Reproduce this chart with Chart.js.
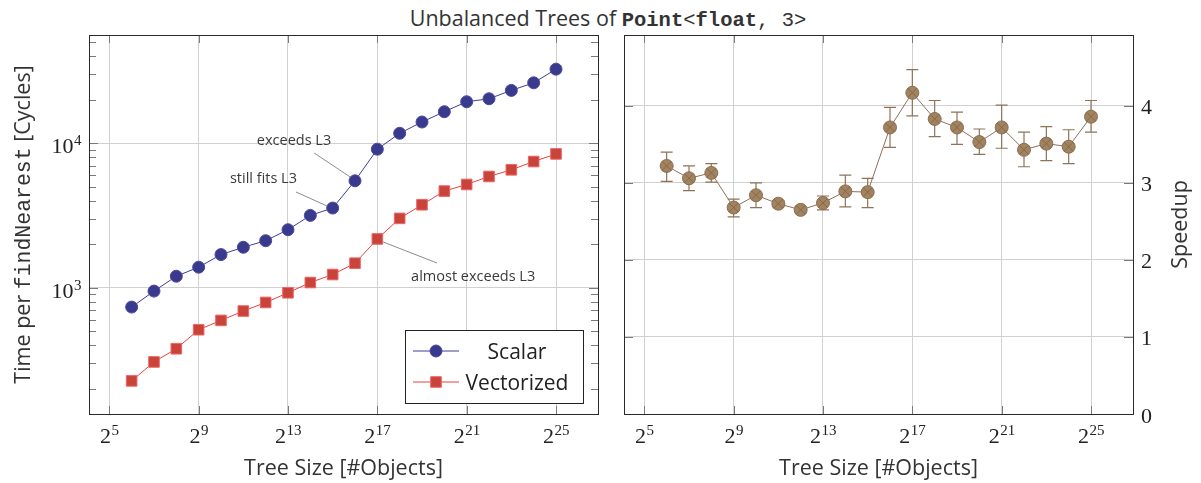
<!DOCTYPE html>
<html>
<head>
<meta charset="utf-8">
<title>Unbalanced Trees of Point&lt;float, 3&gt;</title>
<script src="https://cdn.jsdelivr.net/npm/chart.js@4.4.1/dist/chart.umd.min.js"></script>
<style>
  html, body { margin: 0; padding: 0; background: #fff; overflow: hidden; }
  #wrap { position: relative; width: 1201px; height: 483px; }
  #title {
    position: absolute; top: 4px; left: 608px; transform: translateX(-50%);
    white-space: nowrap; font-family: "Open Sans", sans-serif; font-size: 21.5px;
    line-height: 28px; color: #333;
  }
  #title code { font-family: "Liberation Mono", "DejaVu Sans Mono", monospace; font-size: 20.5px; }
  canvas { position: absolute; top: 0; }
  #timeChart { left: 0; }
  #speedupChart { left: 612px; }
</style>
</head>
<body>
<div id="wrap">
  <div id="title">Unbalanced Trees of <code><b>Point</b>&lt;<b>float</b>, 3&gt;</code></div>
  <canvas id="timeChart" width="612" height="483"></canvas>
  <canvas id="speedupChart" width="589" height="483"></canvas>
</div>
<script>
// tree sizes as exponents of two (2^6 .. 2^25 objects)
const sizeExp = [6, 7, 8, 9, 10, 11, 12, 13, 14, 15, 16, 17, 18, 19, 20, 21, 22, 23, 24, 25];

// cycles per findNearest call
const scalarCycles = [736, 949, 1203, 1389, 1698, 1907, 2119, 2523, 3170, 3563,
                      5500, 9100, 11720, 14030, 16530, 19370, 20320, 23210, 26200, 32570];
const vectorCycles = [227, 307, 379, 513, 595, 691, 792, 924, 1088, 1236,
                      1480, 2178, 3022, 3756, 4669, 5188, 5891, 6551, 7476, 8440];

// speedup with error range
const speedup     = [3.22, 3.06, 3.13, 2.68, 2.84, 2.73, 2.65, 2.74, 2.89, 2.88,
                     3.72, 4.17, 3.83, 3.72, 3.53, 3.72, 3.43, 3.51, 3.47, 3.86];
const speedupLow  = [3.02, 2.90, 3.01, 2.56, 2.68, 2.69, 2.61, 2.65, 2.69, 2.68,
                     3.46, 3.87, 3.60, 3.50, 3.37, 3.45, 3.21, 3.29, 3.25, 3.66];
const speedupHigh = [3.40, 3.22, 3.25, 2.79, 3.00, 2.77, 2.69, 2.83, 3.10, 3.06,
                     3.98, 4.47, 4.07, 3.92, 3.70, 4.01, 3.66, 3.73, 3.69, 4.07];

// tick positions
const xTickExp = [5, 9, 13, 17, 21, 25];
const timeMajorTicks = [1000, 10000];
const timeMinorTicks = [200, 300, 400, 500, 600, 700, 800, 900,
                        2000, 3000, 4000, 5000, 6000, 7000, 8000, 9000,
                        20000, 30000, 40000, 50000];
const speedupTicks = [0, 1, 2, 3, 4];

// cache notes: label position and pointer line, in data units (exponent, cycles)
const cacheNotes = [
  { text: 'exceeds L3',        tx: 13.27, ty: 10420, x1: 14.17, y1: 8570, x2: 15.78, y2: 5850 },
  { text: 'still fits L3',     tx: 11.90, ty: 5660,  x1: 13.36, y1: 4600, x2: 14.75, y2: 3680 },
  { text: 'almost exceeds L3', tx: 21.29, ty: 1188,  x1: 17.26, y1: 2075, x2: 19.67, y2: 1485 }
];

const SERIF = '"Liberation Serif", "DejaVu Serif", serif';
const SANS = '"Open Sans", "Noto Sans", sans-serif';
const MONO = '"Liberation Mono", "DejaVu Sans Mono", monospace';
const gridColor = '#d0d0d0';
const textColor = '#333333';

// draws base^exp with a raised exponent
function powLabel(ctx, base, exp, x, y, align) {
  ctx.font = '22px ' + SERIF;
  const wb = ctx.measureText(base).width;
  ctx.font = '15px ' + SERIF;
  const we = ctx.measureText(exp).width;
  let x0 = x;
  if (align === 'center') x0 = x - (wb + we) / 2;
  if (align === 'right') x0 = x - wb - we;
  ctx.textAlign = 'left';
  ctx.textBaseline = 'alphabetic';
  ctx.font = '22px ' + SERIF;
  ctx.fillText(base, x0, y);
  ctx.font = '15px ' + SERIF;
  ctx.fillText(exp, x0 + wb + 0.5, y - 8);
}

// text built from pieces in different fonts, centered at (cx, cy)
function richText(ctx, parts, cx, cy, angle) {
  ctx.save();
  ctx.translate(cx, cy);
  ctx.rotate(angle);
  let total = 0;
  parts.forEach(p => { ctx.font = p.font; p.w = ctx.measureText(p.text).width; total += p.w; });
  let x = -total / 2;
  ctx.textAlign = 'left';
  ctx.textBaseline = 'alphabetic';
  ctx.fillStyle = textColor;
  parts.forEach(p => { ctx.font = p.font; ctx.fillText(p.text, x, 7.5); x += p.w; });
  ctx.restore();
}

// frame, inner tick marks, tick labels and axis titles
function frameDecor(cfg) {
  return {
    id: 'frameDecor',
    afterDraw(chart) {
      const ctx = chart.ctx, a = chart.chartArea;
      const xs = chart.scales.x, ys = chart.scales.y;
      ctx.save();
      ctx.lineWidth = 1;
      ctx.strokeStyle = '#7a7a7a';
      ctx.beginPath();
      xs.ticks.forEach(t => {
        const px = Math.round(xs.getPixelForValue(t.value)) + 0.5;
        ctx.moveTo(px, a.bottom); ctx.lineTo(px, a.bottom - 8);
        ctx.moveTo(px, a.top); ctx.lineTo(px, a.top + 8);
      });
      ys.ticks.forEach(t => {
        const py = Math.round(ys.getPixelForValue(t.value)) + 0.5;
        const len = t.major === false ? 7 : 9;
        ctx.moveTo(a.left, py); ctx.lineTo(a.left + len, py);
        ctx.moveTo(a.right, py); ctx.lineTo(a.right - len, py);
      });
      ctx.stroke();

      ctx.strokeStyle = '#2a2a2a';
      ctx.strokeRect(Math.round(a.left) + 0.5, Math.round(a.top) + 0.5,
                     Math.round(a.right - a.left), Math.round(a.bottom - a.top));

      ctx.fillStyle = '#222';
      xs.ticks.forEach(t => powLabel(ctx, '2', String(t.value), xs.getPixelForValue(t.value), a.bottom + 29, 'center'));
      cfg.yLabels(ctx, ys, a);

      richText(ctx, [{ text: 'Tree Size [#Objects]', font: '21.5px ' + SANS }], (a.left + a.right) / 2, 467, 0);
      richText(ctx, cfg.yTitle, cfg.yTitleX, (a.top + a.bottom) / 2, -Math.PI / 2);
      ctx.restore();
    }
  };
}

function markerPath(ctx, style, r, x, y) {
  ctx.beginPath();
  if (style === 'rect') {
    const s = r * Math.SQRT1_2;
    ctx.rect(x - s, y - s, 2 * s, 2 * s);
  } else {
    ctx.arc(x, y, r, 0, Math.PI * 2);
  }
}

const legendBox = {
  id: 'legendBox',
  afterDraw(chart) {
    const ctx = chart.ctx, a = chart.chartArea;
    const w = 178, h = 73;
    const left = Math.round(a.right - 15 - w), top = Math.round(a.bottom - 11 - h);
    ctx.save();
    ctx.fillStyle = '#fff';
    ctx.fillRect(left, top, w, h);
    ctx.strokeStyle = '#222';
    ctx.lineWidth = 1;
    ctx.strokeRect(left + 0.5, top + 0.5, w, h);
    chart.data.datasets.forEach((ds, i) => {
      const y = top + 21 + i * 31;
      ctx.strokeStyle = ds.borderColor;
      ctx.lineWidth = ds.borderWidth;
      ctx.beginPath();
      ctx.moveTo(left + 8, y); ctx.lineTo(left + 54, y);
      ctx.stroke();
      markerPath(ctx, ds.pointStyle, ds.pointRadius, left + 31, y);
      ctx.fillStyle = ds.pointBackgroundColor;
      ctx.fill();
      ctx.strokeStyle = ds.pointBorderColor;
      ctx.stroke();
      ctx.fillStyle = '#222';
      ctx.font = '21px ' + SANS;
      ctx.textAlign = 'center';
      ctx.textBaseline = 'alphabetic';
      ctx.fillText(ds.label, left + 112, y + 7.5);
    });
    ctx.restore();
  }
};

const notesPlugin = {
  id: 'cacheNotes',
  afterDatasetsDraw(chart) {
    const ctx = chart.ctx, xs = chart.scales.x, ys = chart.scales.y;
    ctx.save();
    ctx.strokeStyle = '#8c8c8c';
    ctx.lineWidth = 1;
    ctx.fillStyle = '#3a3a3a';
    ctx.font = '14.5px ' + SANS;
    ctx.textAlign = 'center';
    ctx.textBaseline = 'middle';
    cacheNotes.forEach(n => {
      ctx.beginPath();
      ctx.moveTo(xs.getPixelForValue(n.x1), ys.getPixelForValue(n.y1));
      ctx.lineTo(xs.getPixelForValue(n.x2), ys.getPixelForValue(n.y2));
      ctx.stroke();
      ctx.fillText(n.text, xs.getPixelForValue(n.tx), ys.getPixelForValue(n.ty));
    });
    ctx.restore();
  }
};

// vertical error bars under the speedup markers, crosses on top of them
const errorBars = {
  id: 'errorBars',
  beforeDatasetsDraw(chart) {
    const ctx = chart.ctx, xs = chart.scales.x, ys = chart.scales.y;
    ctx.save();
    ctx.strokeStyle = '#8f7359';
    ctx.lineWidth = 1.2;
    ctx.beginPath();
    sizeExp.forEach((e, i) => {
      const x = xs.getPixelForValue(e);
      const lo = ys.getPixelForValue(speedupLow[i]);
      const hi = ys.getPixelForValue(speedupHigh[i]);
      ctx.moveTo(x, lo); ctx.lineTo(x, hi);
      ctx.moveTo(x - 6, lo); ctx.lineTo(x + 6, lo);
      ctx.moveTo(x - 6, hi); ctx.lineTo(x + 6, hi);
    });
    ctx.stroke();
    ctx.restore();
  },
  afterDatasetsDraw(chart) {
    const ctx = chart.ctx;
    const meta = chart.getDatasetMeta(0);
    const d = 6.5 * Math.SQRT1_2;
    ctx.save();
    ctx.strokeStyle = '#7d6147';
    ctx.lineWidth = 0.8;
    ctx.beginPath();
    meta.data.forEach(p => {
      ctx.moveTo(p.x - d, p.y - d); ctx.lineTo(p.x + d, p.y + d);
      ctx.moveTo(p.x - d, p.y + d); ctx.lineTo(p.x + d, p.y - d);
    });
    ctx.stroke();
    ctx.restore();
  }
};

function xScale(height) {
  return {
    type: 'linear',
    min: 4.09,
    max: 26.88,
    afterBuildTicks: s => { s.ticks = xTickExp.map(v => ({ value: v })); },
    afterFit: s => { s.height = height; },
    ticks: { display: false },
    grid: { color: gridColor, lineWidth: 1, drawTicks: false },
    border: { display: false }
  };
}

new Chart(document.getElementById('timeChart'), {
  type: 'line',
  data: {
    datasets: [{
      label: 'Scalar',
      data: sizeExp.map((e, i) => ({ x: e, y: scalarCycles[i] })),
      borderColor: '#3d3d99',
      borderWidth: 1,
      pointStyle: 'circle',
      pointRadius: 6,
      pointBackgroundColor: '#3a3a8c',
      pointBorderColor: '#4a4aa2',
      pointBorderWidth: 1
    }, {
      label: 'Vectorized',
      data: sizeExp.map((e, i) => ({ x: e, y: vectorCycles[i] })),
      borderColor: '#e8403f',
      borderWidth: 1,
      pointStyle: 'rect',
      pointRadius: 7.5,
      pointBackgroundColor: '#c8443a',
      pointBorderColor: '#f06464',
      pointBorderWidth: 1
    }]
  },
  options: {
    responsive: false,
    animation: false,
    layout: { padding: { left: 0, right: 14, top: 35, bottom: 0 } },
    plugins: { legend: { display: false }, tooltip: { enabled: false } },
    scales: {
      x: xScale(69),
      y: {
        type: 'logarithmic',
        min: 134,
        max: 56100,
        afterBuildTicks: s => {
          s.ticks = timeMajorTicks.map(v => ({ value: v, major: true }))
            .concat(timeMinorTicks.map(v => ({ value: v, major: false })));
        },
        afterFit: s => { s.width = 89; },
        ticks: { display: false },
        grid: {
          color: c => (c.tick && c.tick.major ? gridColor : 'rgba(0,0,0,0)'),
          lineWidth: 1,
          drawTicks: false
        },
        border: { display: false }
      }
    }
  },
  plugins: [
    frameDecor({
      yTitleX: 22,
      yTitle: [
        { text: 'Time per ', font: '21.5px ' + SANS },
        { text: 'findNearest', font: '21.5px ' + MONO },
        { text: ' [Cycles]', font: '21.5px ' + SANS }
      ],
      yLabels: (ctx, ys, a) => {
        ys.ticks.filter(t => t.major).forEach(t => {
          powLabel(ctx, '10', String(Math.round(Math.log10(t.value))), a.left - 8, ys.getPixelForValue(t.value) + 10, 'right');
        });
      }
    }),
    notesPlugin,
    legendBox
  ]
});

new Chart(document.getElementById('speedupChart'), {
  type: 'line',
  data: {
    datasets: [{
      label: 'Speedup',
      data: sizeExp.map((e, i) => ({ x: e, y: speedup[i] })),
      borderColor: '#8b7158',
      borderWidth: 1,
      pointStyle: 'circle',
      pointRadius: 6.5,
      pointBackgroundColor: '#a2835f',
      pointBorderColor: '#8a6d50',
      pointBorderWidth: 1
    }]
  },
  options: {
    responsive: false,
    animation: false,
    layout: { padding: { left: 12, right: 0, top: 35, bottom: 0 } },
    plugins: { legend: { display: false }, tooltip: { enabled: false } },
    scales: {
      x: xScale(69),
      y: {
        type: 'linear',
        position: 'right',
        min: 0,
        max: 4.92,
        afterBuildTicks: s => { s.ticks = speedupTicks.map(v => ({ value: v })); },
        afterFit: s => { s.width = 68; },
        ticks: { display: false },
        grid: { color: gridColor, lineWidth: 1, drawTicks: false },
        border: { display: false }
      }
    }
  },
  plugins: [
    errorBars,
    frameDecor({
      yTitleX: 567,
      yTitle: [{ text: 'Speedup', font: '21.5px ' + SANS }],
      yLabels: (ctx, ys, a) => {
        ctx.font = '22px ' + SERIF;
        ctx.textAlign = 'left';
        ctx.textBaseline = 'alphabetic';
        ys.ticks.forEach(t => {
          ctx.fillText(String(t.value), a.right + 8, ys.getPixelForValue(t.value) + 8.5);
        });
      }
    })
  ]
});
</script>
</body>
</html>
